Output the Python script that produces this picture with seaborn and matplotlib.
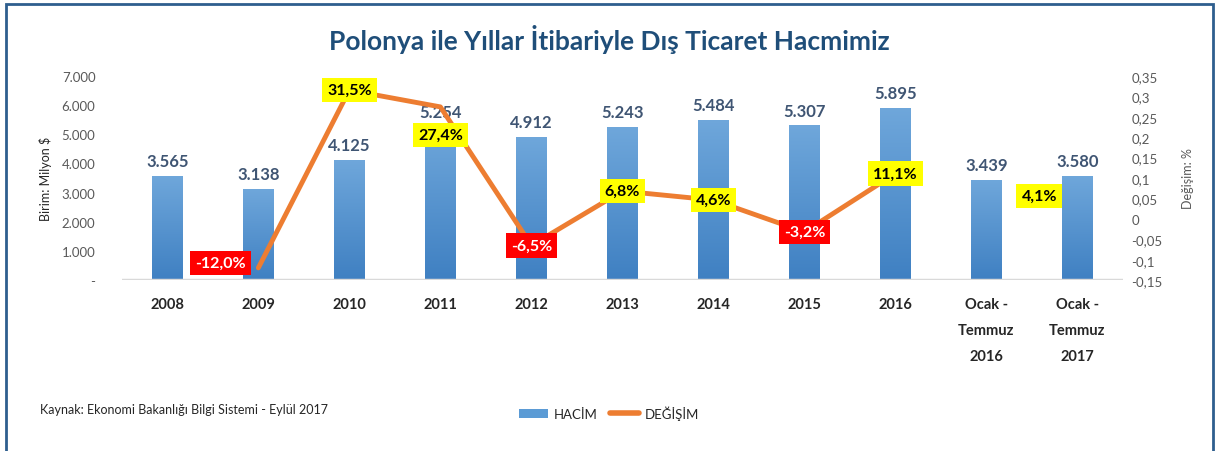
import numpy as np
import pandas as pd
import matplotlib
matplotlib.use("Agg")
import matplotlib.pyplot as plt
from matplotlib.patches import Rectangle, Patch
from matplotlib.lines import Line2D
from matplotlib.colors import LinearSegmentedColormap
import seaborn as sns

# ─── Data ─────────────────────────────────────────────────────────────────────
categories = ["2008", "2009", "2010", "2011", "2012", "2013", "2014", "2015",
              "2016", "Ocak -\nTemmuz\n2016", "Ocak -\nTemmuz\n2017"]
volume = [3565, 3138, 4125, 5254, 4912, 5243, 5484, 5307, 5895, 3439, 3580]
volume_labels = ["3.565", "3.138", "4.125", "5.254", "4.912", "5.243",
                 "5.484", "5.307", "5.895", "3.439", "3.580"]

# yearly change (line drawn only for 2009-2016)
line_years = ["2009", "2010", "2011", "2012", "2013", "2014", "2015", "2016"]
line_change = [-0.120, 0.315, 0.274, -0.065, 0.068, 0.046, -0.032, 0.111]
# period change for Ocak-Temmuz 2017 (label only, no line point)
period_change = 0.041

left_ticks = [0, 1000, 2000, 3000, 4000, 5000, 6000, 7000]
left_tick_labels = ["-", "1.000", "2.000", "3.000", "4.000", "5.000", "6.000", "7.000"]
right_ticks = [-0.15, -0.1, -0.05, 0, 0.05, 0.1, 0.15, 0.2, 0.25, 0.3, 0.35]
right_tick_labels = ["-0,15", "-0,1", "-0,05", "0", "0,05", "0,1", "0,15",
                     "0,2", "0,25", "0,3", "0,35"]

BAR_COLOR = "#5B9BD5"
LINE_COLOR = "#ED7D31"
TITLE_COLOR = "#1F4E79"
VALUE_COLOR = "#3F5573"
TICK_COLOR = "#595959"

sns.set_style("white")
plt.rcParams["font.family"] = ["Lato", "DejaVu Sans"]

fig = plt.figure(figsize=(12.18, 4.52), dpi=100)
ax = fig.add_axes([0.100, 0.378, 0.822, 0.452])

df_bar = pd.DataFrame({"cat": categories, "vol": volume})
sns.barplot(data=df_bar, x="cat", y="vol", color=BAR_COLOR, width=0.33,
            saturation=1, ax=ax)

# vertical gradient fill on each bar (lighter at the top)
grad = LinearSegmentedColormap.from_list("g", ["#3F80C2", "#6FA7DB"])
for p in ax.patches:
    x0, y0 = p.get_x(), p.get_y()
    w, h = p.get_width(), p.get_height()
    im = ax.imshow(np.linspace(0, 1, 256).reshape(-1, 1), cmap=grad,
                   aspect="auto", origin="lower",
                   extent=(x0, x0 + w, y0, y0 + h), zorder=p.get_zorder())
    im.set_clip_path(p)
    p.set_facecolor("none")
ax.set_xlim(-0.5, len(categories) - 0.5)
ax.set_ylim(0, 7000)

ax.set_yticks(left_ticks)
ax.set_yticklabels(left_tick_labels, color=TICK_COLOR, fontsize=9.5)
ax.set_xticks(range(len(categories)))
ax.set_xticklabels(categories, fontsize=10.5, fontweight="bold",
                   linespacing=2.1, va="top")
ax.tick_params(axis="x", length=0, pad=12)
ax.tick_params(axis="y", length=0, pad=19)
ax.set_xlabel("")
ax.set_ylabel("Birim: Milyon $", fontsize=9, color="#262626", labelpad=7)
for s in ax.spines.values():
    s.set_visible(False)
ax.axhline(0, color="#D9D9D9", lw=2.5, zorder=3)

for i, (v, lab) in enumerate(zip(volume, volume_labels)):
    ax.text(i, v + 230, lab, ha="center", va="bottom", fontsize=12,
            fontweight="bold", color=VALUE_COLOR)

# ─── Change line on secondary axis ────────────────────────────────────────────
ax2 = ax.twinx()
x_line = [categories.index(y) for y in line_years]
df_line = pd.DataFrame({"x": x_line, "chg": line_change})
sns.lineplot(data=df_line, x="x", y="chg", color=LINE_COLOR, lw=3.5, ax=ax2)
ax2.set_ylim(-0.15, 0.35)
ax2.set_xlim(-0.5, len(categories) - 0.5)
ax2.set_yticks(right_ticks)
ax2.set_yticklabels(right_tick_labels, color=TICK_COLOR, fontsize=9.5)
ax2.tick_params(axis="y", length=0, pad=6)
ax2.set_ylabel("Değişim: %", fontsize=9, color="#595959", labelpad=14)
ax2.set_xlabel("")
for s in ax2.spines.values():
    s.set_visible(False)

# label offsets (data x, axis-y) per point
offsets = {"2009": (-0.42, 0.012), "2011": (0, -0.068)}


def pct(v):
    return f"{v * 100:.1f}%".replace(".", ",")


def box_label(x, y, v):
    neg = v < 0
    ax2.text(x, y, pct(v), ha="center", va="center", fontsize=11.5,
             fontweight="bold", color="white" if neg else "black", zorder=5,
             bbox=dict(boxstyle="square,pad=0.32",
                       fc="#FF0000" if neg else "#FFFF00", ec="none"))


for xv, yr, v in zip(x_line, line_years, line_change):
    dx, dy = offsets.get(yr, (0, 0))
    box_label(xv + dx, v + dy, v)
box_label(len(categories) - 1 - 0.42, period_change + 0.015, period_change)

# ─── Title, source, legend, frame ─────────────────────────────────────────────
fig.text(0.5, 0.912, "Polonya ile Yıllar İtibariyle Dış Ticaret Hacmimiz",
         ha="center", va="center", fontsize=19, fontweight="bold",
         color=TITLE_COLOR)
fig.text(0.033, 0.093, "Kaynak: Ekonomi Bakanlığı Bilgi Sistemi - Eylül 2017",
         ha="left", va="center", fontsize=9, color="#262626")
handles = [Patch(facecolor=BAR_COLOR, edgecolor="none"),
           Line2D([0], [0], color=LINE_COLOR, lw=4)]
fig.legend(handles, ["HACİM", "DEĞİŞİM"], loc="center", ncol=2,
           bbox_to_anchor=(0.5, 0.085), frameon=False, fontsize=9.5,
           handlelength=2.2, columnspacing=1.0, handletextpad=0.4)

fig.patches.append(Rectangle((0.005, -0.05), 0.991, 1.04, transform=fig.transFigure,
                             fill=False, ec="#2E5E8E", lw=2))

fig.savefig("out.png", dpi=100)
